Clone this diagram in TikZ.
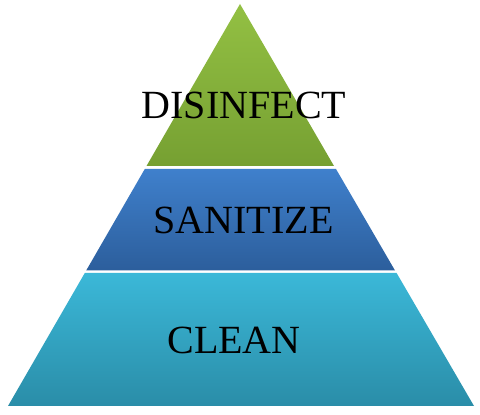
\documentclass[tikz,border=0pt]{standalone}
\usepackage{fontspec}
\setmainfont{Liberation Serif}
\definecolor{gtop}{HTML}{93C043}
\definecolor{gbot}{HTML}{76A032}
\definecolor{btop}{HTML}{3F80CC}
\definecolor{bbot}{HTML}{2C5E9C}
\definecolor{ctop}{HTML}{3BB8D8}
\definecolor{cbot}{HTML}{2A8DA8}
\tikzset{
  lbl/.style={font=\fontsize{40}{40}\selectfont, text=black, anchor=base, inner sep=0pt},
}
\begin{document}
\begin{tikzpicture}[x=1pt,y=1pt]
\useasboundingbox (0,0) rectangle (480,415);
\fill[white] (0,0) rectangle (480,415);
% green top
\shade[top color=gtop, bottom color=gbot] (240,411) -- (334,249) -- (146.5,249) -- cycle;
% blue middle
\shade[top color=btop, bottom color=bbot] (144.8,246) -- (336,246) -- (395,144.5) -- (86.2,144.5) -- cycle;
% cyan bottom
\shade[top color=ctop, bottom color=cbot] (84.8,142) -- (396.6,142) -- (474,9) -- (8,9) -- cycle;
\node[lbl] (dis) at (244,296) {DISINFECT};
\node[lbl] (san) at (243.5,181) {SANITIZE};
\node[lbl] (cle) at (234,61) {CLEAN};
\end{tikzpicture}
\end{document}
